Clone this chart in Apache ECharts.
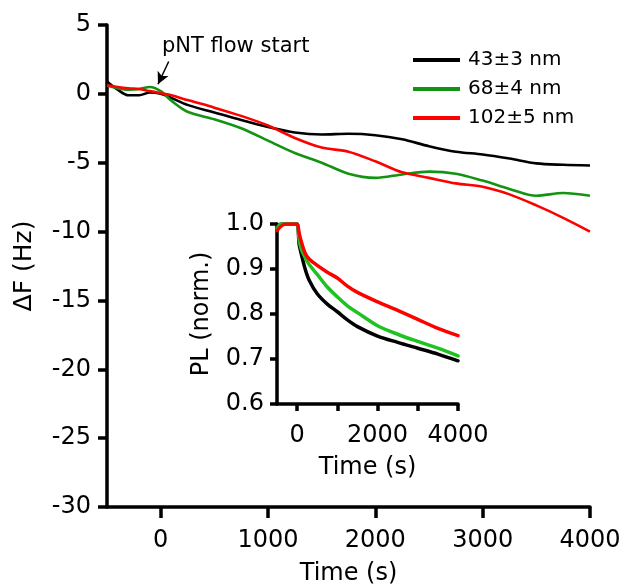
<!DOCTYPE html>
<html>
<head>
<meta charset="utf-8">
<script src="https://cdn.jsdelivr.net/npm/echarts@6/dist/echarts.min.js"></script>
<style>
  html, body { margin: 0; padding: 0; background: #fff; }
  #chart { width: 624px; height: 586px; }
</style>
</head>
<body>
<div id="chart"></div>
<script>
// main panel: frequency shift vs time
var mainTime = [-500, -400, -300, -200, -100, 0, 100, 250, 500, 750, 1000, 1250, 1500, 1750, 2000, 2250, 2500, 2750, 3000, 3250, 3500, 3750, 4000];
var dF43 = [0.9, 0.3, -0.1, -0.1, 0.1, 0.0, -0.3, -0.8, -1.35, -1.9, -2.4, -2.8, -2.95, -2.9, -3.0, -3.3, -3.8, -4.2, -4.4, -4.7, -5.05, -5.15, -5.2];
var dF68 = [0.6, 0.4, 0.3, 0.35, 0.5, 0.2, -0.5, -1.3, -1.85, -2.5, -3.4, -4.3, -5.0, -5.8, -6.1, -5.85, -5.65, -5.8, -6.3, -6.9, -7.4, -7.2, -7.4];
var dF102 = [0.65, 0.5, 0.4, 0.35, 0.2, 0.05, -0.1, -0.45, -1.0, -1.6, -2.3, -3.2, -3.9, -4.2, -4.9, -5.7, -6.1, -6.5, -6.75, -7.3, -8.1, -9.0, -10.0];

// inset: normalised PL vs time
var insetTime = [-500, -400, -300, -200, -100, 0, 50, 100, 200, 300, 500, 750, 1000, 1250, 1500, 2000, 2500, 3000, 3500, 4000];
var pl43 = [0.99, 1.0, 1.0, 1.0, 1.0, 1.0, 0.955, 0.935, 0.9, 0.875, 0.845, 0.822, 0.805, 0.787, 0.772, 0.751, 0.737, 0.724, 0.711, 0.696];
var pl68 = [0.99, 1.0, 1.0, 1.0, 1.0, 1.0, 0.965, 0.945, 0.925, 0.91, 0.888, 0.86, 0.838, 0.818, 0.803, 0.774, 0.755, 0.739, 0.724, 0.707];
var pl102 = [0.985, 0.995, 1.0, 1.0, 1.0, 1.0, 0.98, 0.962, 0.935, 0.922, 0.908, 0.893, 0.88, 0.862, 0.848, 0.827, 0.808, 0.788, 0.768, 0.752];

var seriesNames = ['43±3 nm', '68±4 nm', '102±5 nm'];
var mainColors = ['#000000', '#129412', '#ff0000'];
var insetColors = ['#000000', '#1fc21f', '#ff0000'];

var mainTicks = [0, 1000, 2000, 3000, 4000];
var insetTicks = [0, 1000, 2000, 3000, 4000];
var insetLabels = [0, 2000, 4000];

// arrow for the "pNT flow start" note (data coords)
var arrowFrom = [75, 2.35];
var arrowTo = [-25, 0.7];

var FONT = 'DejaVu Sans';

function pairs(xs, ys) {
    var out = [];
    for (var i = 0; i < xs.length; i++) out.push([xs[i], ys[i]]);
    return out;
}

function plain(v) {
    return String(v);
}

function axisBase(extra) {
    var base = {
        type: 'value',
        splitLine: {show: false},
        axisLine: {show: true, onZero: false, lineStyle: {color: '#000', width: 3.5}},
        axisTick: {show: true, inside: false, length: 9, lineStyle: {color: '#000', width: 3.5}},
        axisLabel: {color: '#000', fontFamily: FONT, fontSize: 24, formatter: plain},
        nameLocation: 'middle',
        nameTextStyle: {color: '#000', fontFamily: FONT, fontSize: 24}
    };
    return echarts.util.merge(base, extra, true);
}

var chart = echarts.init(document.getElementById('chart'), null, {renderer: 'canvas'});

var series = [];
var mainData = [dF43, dF68, dF102];
var insetData = [pl43, pl68, pl102];
for (var i = 0; i < 3; i++) {
    series.push({
        name: seriesNames[i],
        type: 'line',
        xAxisIndex: 0,
        yAxisIndex: 0,
        data: pairs(mainTime, mainData[i]),
        symbol: 'none',
        smooth: 0.3,
        color: mainColors[i],
        lineStyle: {color: mainColors[i], width: 2.6},
        z: 3 + i
    });
}
for (var j = 0; j < 3; j++) {
    series.push({
        name: seriesNames[j],
        type: 'line',
        xAxisIndex: 1,
        yAxisIndex: 1,
        data: pairs(insetTime, insetData[j]),
        symbol: 'none',
        smooth: 0.3,
        color: insetColors[j],
        lineStyle: {color: insetColors[j], width: 3.5, cap: 'round'},
        z: 3 + j
    });
}
// arrow annotation
series[0].markLine = {
    silent: true,
    symbol: ['none', 'arrow'],
    symbolSize: [9, 12],
    label: {show: false},
    lineStyle: {color: '#000', width: 1.5, type: 'solid'},
    data: [[{coord: arrowFrom}, {coord: arrowTo}]]
};

var option = {
    animation: false,
    backgroundColor: '#fff',
    grid: [
        {left: 107, right: 34, top: 25, bottom: 79, outerBoundsMode: 'none', containLabel: false},
        {left: 277, width: 181, top: 224, height: 180, outerBoundsMode: 'none', containLabel: false}
    ],
    xAxis: [
        axisBase({
            gridIndex: 0, min: -500, max: 4000,
            name: 'Time (s)', nameGap: 55,
            axisTick: {customValues: mainTicks, length: 11},
            axisLabel: {customValues: mainTicks, margin: 22}
        }),
        axisBase({
            gridIndex: 1, min: -500, max: 4000,
            name: 'Time (s)', nameGap: 52,
            axisTick: {customValues: insetTicks, length: 7},
            axisLabel: {customValues: insetLabels, margin: 20}
        })
    ],
    yAxis: [
        axisBase({
            gridIndex: 0, min: -30, max: 5, interval: 5,
            name: 'ΔF (Hz)', nameGap: 70,
            nameTextStyle: {fontSize: 25},
            axisLabel: {margin: 16}
        }),
        axisBase({
            gridIndex: 1, min: 0.6, max: 1.0, interval: 0.1,
            name: 'PL (norm.)', nameGap: 63,
            axisTick: {length: 7},
            axisLabel: {margin: 13, formatter: function (v) { return v.toFixed(1); }}
        })
    ],
    legend: {
        show: true,
        left: 408,
        top: 45,
        orient: 'vertical',
        icon: 'rect',
        itemWidth: 47,
        itemHeight: 4,
        itemGap: 9,
        selectedMode: false,
        data: seriesNames,
        textStyle: {color: '#000', fontFamily: FONT, fontSize: 20, lineHeight: 20, padding: [0, 0, 0, 3]}
    },
    graphic: [{
        type: 'text',
        left: 162,
        top: 36,
        style: {text: 'pNT flow start', fill: '#000', font: '21px "DejaVu Sans"'}
    }],
    series: series
};

chart.setOption(option);
</script>
</body>
</html>
